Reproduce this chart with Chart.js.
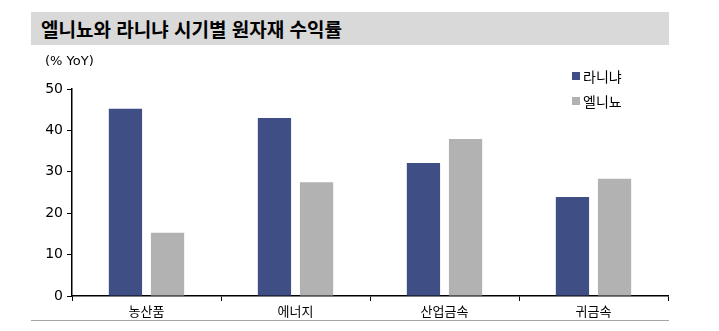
<!DOCTYPE html>
<html lang="ko">
<head>
<meta charset="utf-8">
<script src="https://cdn.jsdelivr.net/npm/chart.js@4.4.0/dist/chart.umd.min.js"></script>
<style>
  html, body { margin: 0; padding: 0; background: #fff; }
  #wrap { position: relative; width: 719px; height: 331px; overflow: hidden; font-family: "Noto Sans CJK KR", sans-serif; }
  #title { position: absolute; left: 31px; top: 12px; width: 638px; height: 33px; background: #d9d9d9;
    font-size: 19px; font-weight: bold; line-height: 33px; padding-left: 10px; box-sizing: border-box; color: #000; }
  #unit { position: absolute; left: 45px; top: 53px; font-size: 13px; font-family: "DejaVu Sans", sans-serif; color: #000; }
  #legend { position: absolute; left: 572px; top: 63px; font-size: 14px; color: #000; }
  .lg { display: flex; align-items: center; height: 25px; }
  .sw { width: 8px; height: 8px; margin-right: 3px; }
  #bottom { position: absolute; left: 31px; top: 320px; width: 638px; height: 1px; background: #a6a6a6; }
  #chart { position: absolute; left: 0; top: 0; }
</style>
</head>
<body>
<div id="wrap">
  <canvas id="chart" width="719" height="331"></canvas>
  <div id="title">엘니뇨와 라니냐 시기별 원자재 수익률</div>
  <div id="unit">(% YoY)</div>
  <div id="legend"></div>
  <div id="bottom"></div>
</div>
<script>
"use strict";

const CATEGORIES = ["농산품", "에너지", "산업금속", "귀금속"];
const LANINA = [45.2, 43.0, 32.1, 23.9];
const ELNINO = [15.3, 27.5, 37.9, 28.3];
const Y_TICKS = [0, 10, 20, 30, 40, 50];

const SERIES = [
  { label: "라니냐", data: LANINA, color: "#3f4f86" },
  { label: "엘니뇨", data: ELNINO, color: "#b2b2b2" },
];

function renderLegend() {
  document.getElementById("legend").innerHTML = SERIES
    .map((s) => `<div class="lg"><span class="sw" style="background:${s.color}"></span>${s.label}</div>`)
    .join("");
}

function renderChart() {
  new Chart(document.getElementById("chart"), {
    type: "bar",
    data: {
      labels: CATEGORIES,
      datasets: SERIES.map((s) => ({
        label: s.label,
        data: s.data,
        backgroundColor: s.color,
        barPercentage: 0.79,
        categoryPercentage: 0.565,
      })),
    },
    options: {
      responsive: false,
      animation: false,
      layout: { padding: { top: 89, right: 51, left: 0, bottom: 0 } },
      plugins: { legend: { display: false }, tooltip: { enabled: false } },
      scales: {
        x: {
          grid: { display: true, drawOnChartArea: false, drawTicks: true, tickLength: 5, color: "#000", lineWidth: 1 },
          border: { color: "#000", width: 1.5 },
          ticks: { color: "#000", font: { family: "Noto Sans CJK KR", size: 13 }, padding: 2 },
          afterFit: (scale) => { scale.height = 35; },
        },
        y: {
          min: 0,
          max: 50,
          afterBuildTicks: (scale) => { scale.ticks = Y_TICKS.map((v) => ({ value: v })); },
          grid: { display: true, drawOnChartArea: false, drawTicks: true, tickLength: 5, color: "#000", lineWidth: 1 },
          border: { color: "#000", width: 1.5 },
          ticks: { color: "#000", font: { family: "DejaVu Sans", size: 14 }, padding: 4 },
          afterFit: (scale) => { scale.width = 72; },
        },
      },
    },
  });
}

renderLegend();
renderChart();
</script>
</body>
</html>
